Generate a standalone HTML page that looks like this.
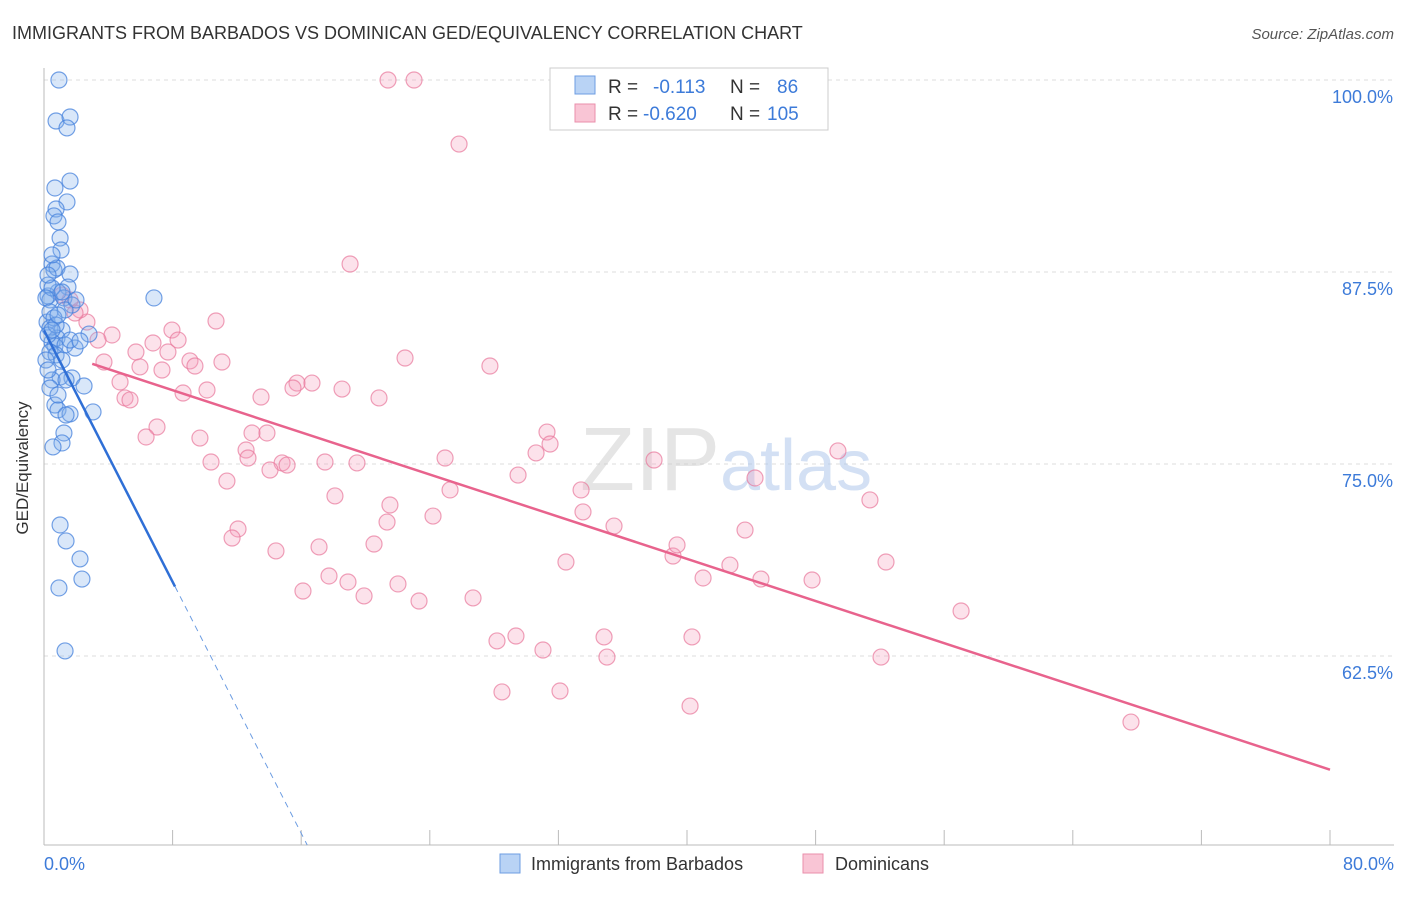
<!DOCTYPE html>
<html><head><meta charset="utf-8"><style>
body{margin:0;background:#fff;font-family:"Liberation Sans",sans-serif;}
svg text{font-family:"Liberation Sans",sans-serif;}
</style></head><body>
<svg width="1406" height="892" viewBox="0 0 1406 892" xmlns="http://www.w3.org/2000/svg">
<text x="12" y="39" font-size="18" fill="#333">IMMIGRANTS FROM BARBADOS VS DOMINICAN GED/EQUIVALENCY CORRELATION CHART</text>
<text x="1394" y="39" font-size="15" font-style="italic" fill="#555" text-anchor="end">Source: ZipAtlas.com</text>
<g id="grid"></g>
<text x="720" y="490" font-size="90" fill="#ccc" opacity="0.5" text-anchor="end" font-family="Liberation Serif">ZIP</text>
<text x="720" y="490" font-size="72" fill="#a9c3ea" opacity="0.5">atlas</text>
<g id="axes"></g>
<g id="pts"></g>
<g id="lines"></g>
<text x="20" y="460" font-size="17" fill="#333" text-anchor="middle" transform="rotate(-90 28 460)">GED/Equivalency</text>
<text x="44" y="870" font-size="18" fill="#3d7bd9">0.0%</text>
<text x="1394" y="870" font-size="18" fill="#3d7bd9" text-anchor="end">80.0%</text>
<g>
<rect x="550" y="68" width="278" height="62" fill="#fff" stroke="#ccc"/>
<rect x="575" y="76" width="20" height="18" fill="#b9d3f5" stroke="#6d9de2"/>
<rect x="575" y="104" width="20" height="18" fill="#f9c5d5" stroke="#ea8fab"/>
<text x="608" y="93" font-size="19" fill="#333">R =</text>
<text x="653" y="93" font-size="19" fill="#3d7bd9">-0.113</text>
<text x="730" y="93" font-size="19" fill="#333">N =</text>
<text x="777" y="93" font-size="19" fill="#3d7bd9">86</text>
<text x="608" y="120" font-size="19" fill="#333">R =</text>
<text x="643" y="120" font-size="19" fill="#3d7bd9">-0.620</text>
<text x="730" y="120" font-size="19" fill="#333">N =</text>
<text x="767" y="120" font-size="19" fill="#3d7bd9">105</text>
</g>
<g>
<rect x="500" y="854" width="20" height="19" fill="#b9d3f5" stroke="#6d9de2"/>
<text x="531" y="870" font-size="18" fill="#333">Immigrants from Barbados</text>
<rect x="803" y="854" width="20" height="19" fill="#f9c5d5" stroke="#ea8fab"/>
<text x="835" y="870" font-size="18" fill="#333">Dominicans</text>
</g>
</svg>
<script>
const yTicks=[100,87.5,75,62.5];
const yTickLabels=["100.0%","87.5%","75.0%","62.5%"];
const pinkPx=[[388,80],[414,80],[459,144],[350,264],[216,321],[172,330],[178,340],[153,343],[112,335],[87,322],[98,340],[80,310],[70,300],[62,295],[75,313],[136,352],[168,352],[190,361],[195,366],[222,362],[140,367],[162,370],[120,382],[104,362],[125,398],[130,400],[183,393],[207,390],[297,383],[312,383],[293,388],[342,389],[261,397],[379,398],[405,358],[490,366],[157,427],[146,437],[200,438],[252,433],[267,433],[246,450],[248,458],[211,462],[282,463],[287,465],[270,470],[325,462],[357,463],[227,481],[335,496],[445,458],[450,490],[518,475],[536,453],[547,432],[550,444],[581,490],[583,512],[387,522],[390,505],[433,516],[614,526],[654,460],[755,478],[838,451],[870,500],[238,529],[232,538],[276,551],[319,547],[374,544],[566,562],[673,556],[677,545],[745,530],[730,565],[761,579],[703,578],[812,580],[886,562],[329,576],[348,582],[364,596],[398,584],[419,601],[473,598],[303,591],[497,641],[516,636],[543,650],[604,637],[607,657],[692,637],[881,657],[961,611],[502,692],[560,691],[690,706],[1131,722]];
const bluePx=[[59,80],[56,121],[70,117],[67,128],[70,181],[55,188],[67,202],[56,209],[54,216],[58,222],[60,238],[61,250],[52,264],[54,270],[57,268],[70,274],[68,287],[58,292],[48,296],[50,300],[64,298],[72,305],[65,310],[154,298],[47,322],[50,328],[89,334],[62,330],[57,338],[52,342],[55,346],[65,345],[75,348],[50,352],[56,355],[62,360],[72,378],[60,377],[52,380],[50,388],[84,386],[66,380],[55,405],[58,410],[70,414],[93,412],[64,433],[62,443],[53,447],[60,525],[66,541],[80,559],[82,579],[59,588],[65,651],[48,285],[52,288],[46,298],[50,312],[54,318],[48,335],[56,325],[70,340],[80,341],[46,360],[48,370],[58,395],[66,415],[52,330],[58,315],[62,292],[76,300],[48,275],[52,255]];
// data values (x %, y %)
const pinkX=pinkPx.map(p=>+((p[0]-44)/16.075).toFixed(2));
const pinkY=pinkPx.map(p=>+(100-(p[1]-80)/15.36).toFixed(2));
const blueX=bluePx.map(p=>+((p[0]-44)/16.075).toFixed(2));
const blueY=bluePx.map(p=>+(100-(p[1]-80)/15.36).toFixed(2));
const pinkTrend=[82.55,55.1];
const blueTrend=[83.7,-80];
const NS="http://www.w3.org/2000/svg";
const X=v=>44+v*16.075, Y=v=>80+(100-v)*15.36;
function mk(tag,attrs,parent){const e=document.createElementNS(NS,tag);for(const k in attrs)e.setAttribute(k,attrs[k]);parent.appendChild(e);return e;}
const grid=document.getElementById('grid'),axes=document.getElementById('axes');
yTicks.forEach((t,i)=>{
 const l=mk('line',{x1:44,x2:1394,y1:Y(t),y2:Y(t),stroke:'#ddd','stroke-dasharray':'4,4'},grid);
 
 
 const tx=mk('text',{x:1393,y:Y(t)+23,'font-size':18,fill:'#3d7bd9','text-anchor':'end'},axes);
 tx.textContent=yTickLabels[i];
 
 
});
let a=mk('line',{x1:44,x2:44,y1:68,y2:845,stroke:'#bbb'},axes);


a=mk('line',{x1:44,x2:1394,y1:845,y2:845,stroke:'#bbb'},axes);


for(let i=1;i<=10;i++){const t=mk('line',{x1:X(i*8),x2:X(i*8),y1:830,y2:845,stroke:'#bbb'},axes);
 
 }
const pts=document.getElementById('pts');
pinkX.forEach((x,i)=>{const c=mk('circle',{cx:X(x),cy:Y(pinkY[i]),r:8,fill:'rgba(244,160,188,0.3)',stroke:'rgba(232,120,155,0.7)','stroke-width':1.2},pts);
 
 });
blueX.forEach((x,i)=>{const c=mk('circle',{cx:X(x),cy:Y(blueY[i]),r:8,fill:'rgba(130,175,235,0.3)',stroke:'rgba(70,130,220,0.75)','stroke-width':1.2},pts);
 
 });
const lines=document.getElementById('lines');
const bAt=x=>blueTrend[0]+(blueTrend[1]-blueTrend[0])*x/80;
let l=mk('line',{x1:X(0),y1:Y(bAt(0)),x2:X(8.15),y2:Y(bAt(8.15)),stroke:'#2f6fd6','stroke-width':2.5},lines);


const xEnd=(blueTrend[0]-(100-(845-80)/15.36))/(blueTrend[0]-blueTrend[1])*80;
l=mk('line',{x1:X(8.15),y1:Y(bAt(8.15)),x2:X(xEnd),y2:Y(bAt(xEnd)),stroke:'#6d9de2','stroke-width':1,'stroke-dasharray':'6,5'},lines);


l=mk('line',{x1:X(3),y1:Y(pinkTrend[0]+(pinkTrend[1]-pinkTrend[0])*3/80),x2:X(80),y2:Y(pinkTrend[1]),stroke:'#e8638d','stroke-width':2.5},lines);


</script>
</body></html>
